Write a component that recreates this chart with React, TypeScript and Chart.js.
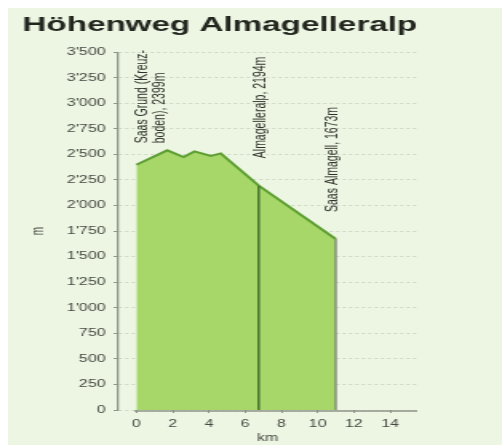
import { useEffect, useRef } from "react";
import { Chart, registerables } from "chart.js";

Chart.register(...registerables);

// ---- data ----
const titleText = "Höhenweg Almagelleralp";
const xAxisTitle = "km";
const yAxisTitle = "m";

const profileKm = [0, 1.7, 2.6, 3.2, 4.1, 4.65, 6.75, 11.0];
const profileElevation = [2399, 2540, 2475, 2530, 2485, 2510, 2194, 1673];

const stopKm = [0, 6.75, 11.0];
const stopElevation = [2399, 2194, 1673];
const stopLabels = [
  ["Saas Grund (Kreuz-", "boden), 2399m"],
  ["Almagelleralp, 2194m"],
  ["Saas Almagell, 1673m"],
];

const xTickValues = [0, 2, 4, 6, 8, 10, 12, 14];
const yTickValues = [0, 250, 500, 750, 1000, 1250, 1500, 1750, 2000, 2250, 2500, 2750, 3000, 3250, 3500];

// ---- styles ----
const FONT = "'Liberation Sans', Arial, Helvetica, sans-serif";
const BG = "#ecf6e2";
const FILL = "#a6d768";
const LINE = "#5e9e33";
const MARK_DARK = "#3e6a2a";
const MARK_GRAY = "#7c8276";
const AXIS = "#8f948a";
const TEXT = "#464943";

// internal canvas size (the picture is horizontally stretched)
const CANVAS_W = 309;
const CANVAS_H = 437;
const DISPLAY_W = 494;

const fmt = (v: number) => {
  const s = String(Math.round(v));
  return s.length > 3 ? s.slice(0, s.length - 3) + "'" + s.slice(s.length - 3) : s;
};

const labelOffsets = [
  { dx: 3.7, gap: 21.5 },
  { dx: 1.2, gap: 27.5 },
  { dx: -2.2, gap: 27 },
];

const stopLabelPlugin = {
  id: "stopLabels",
  afterDatasetsDraw(chart: any) {
    const { ctx, scales } = chart;
    const xs = scales.x;
    const ys = scales.y;
    ctx.save();
    // x axis line (offset from y axis)
    ctx.strokeStyle = AXIS;
    ctx.lineWidth = 1.6;
    ctx.beginPath();
    const yb = chart.chartArea.bottom + 1;
    ctx.moveTo(xs.getPixelForValue(-0.12), yb);
    ctx.lineTo(chart.chartArea.right, yb);
    ctx.stroke();

    ctx.fillStyle = "#2f322c";
    ctx.font = `10.5px ${FONT}`;
    ctx.textAlign = "left";
    ctx.textBaseline = "middle";
    stopLabels.forEach((lines, i) => {
      const off = labelOffsets[i];
      const px = xs.getPixelForValue(stopKm[i]) + off.dx;
      const py = ys.getPixelForValue(stopElevation[i]) - off.gap;
      ctx.save();
      ctx.translate(px, py);
      ctx.rotate(-Math.PI / 2);
      lines.forEach((ln, j) => ctx.fillText(ln, 0, j * 11.25));
      ctx.restore();
    });
    ctx.restore();
  },
};

export default function App() {
  const ref = useRef<HTMLCanvasElement | null>(null);

  useEffect(() => {
    if (!ref.current) return;
    Chart.defaults.font.family = FONT;
    const chart = new Chart(ref.current, {
      type: "line",
      data: {
        datasets: [
          {
            data: [
              { x: stopKm[1], y: 0 },
              { x: stopKm[1], y: stopElevation[1] },
            ],
            borderColor: MARK_DARK,
            borderWidth: 1.4,
            pointRadius: 0,
            fill: false,
          },
          {
            data: [
              { x: stopKm[2], y: 0 },
              { x: stopKm[2], y: stopElevation[2] },
            ],
            borderColor: MARK_GRAY,
            borderWidth: 1.3,
            pointRadius: 0,
            fill: false,
          },
          {
            data: profileKm.map((k, i) => ({ x: k, y: profileElevation[i] })),
            borderColor: LINE,
            borderWidth: 2,
            backgroundColor: FILL,
            fill: "origin",
            pointRadius: 0,
            tension: 0,
          },
        ],
      },
      options: {
        animation: false,
        responsive: false,
        devicePixelRatio: 1,
        layout: { padding: { left: 9, right: 53, top: 0, bottom: 0 } },
        plugins: {
          legend: { display: false },
          tooltip: { enabled: false },
          title: {
            display: true,
            text: titleText,
            align: "start",
            color: "#23261f",
            font: { size: 21, weight: "bold", family: FONT },
            padding: { top: 5, bottom: 14 },
          },
        },
        scales: {
          x: {
            type: "linear",
            min: -1,
            max: 15.5,
            afterBuildTicks: (s: any) => {
              s.ticks = xTickValues.map((v) => ({ value: v }));
            },
            afterFit: (s: any) => {
              s.height = 35;
            },
            grid: { drawOnChartArea: false, tickLength: 3, tickColor: AXIS, tickWidth: 1 },
            border: { display: false },
            ticks: { color: TEXT, font: { size: 10 }, padding: 5, maxRotation: 0, autoSkip: false },
            title: {
              display: true,
              text: xAxisTitle,
              color: TEXT,
              font: { size: 10 },
              padding: { top: 0, bottom: 1 },
            },
          },
          y: {
            min: 0,
            max: 3500,
            afterBuildTicks: (s: any) => {
              s.ticks = yTickValues.map((v) => ({ value: v }));
            },
            afterFit: (s: any) => {
              s.width = 60;
            },
            grid: {
              color: "rgba(0,0,0,0.13)",
              tickLength: 3,
              tickColor: AXIS,
              tickBorderDash: [],
              tickWidth: 1,
            },
            border: { display: true, color: AXIS, width: 1.3, dash: [2, 2] },
            ticks: {
              color: TEXT,
              font: { size: 10 },
              padding: 5,
              callback: (v: any) => fmt(Number(v)),
            },
            title: {
              display: true,
              text: yAxisTitle,
              color: TEXT,
              font: { size: 10 },
              padding: { top: 4.5, bottom: 0 },
            },
          },
        },
      },
      plugins: [stopLabelPlugin],
    } as any);
    return () => chart.destroy();
  }, []);

  return (
    <div
      style={{
        position: "absolute",
        left: 8,
        top: 8,
        width: DISPLAY_W,
        height: CANVAS_H,
        background: BG,
        overflow: "hidden",
      }}
    >
      <canvas
        ref={ref}
        width={CANVAS_W}
        height={CANVAS_H}
        style={{ width: `${DISPLAY_W}px`, height: `${CANVAS_H}px`, display: "block" }}
      />
    </div>
  );
}
